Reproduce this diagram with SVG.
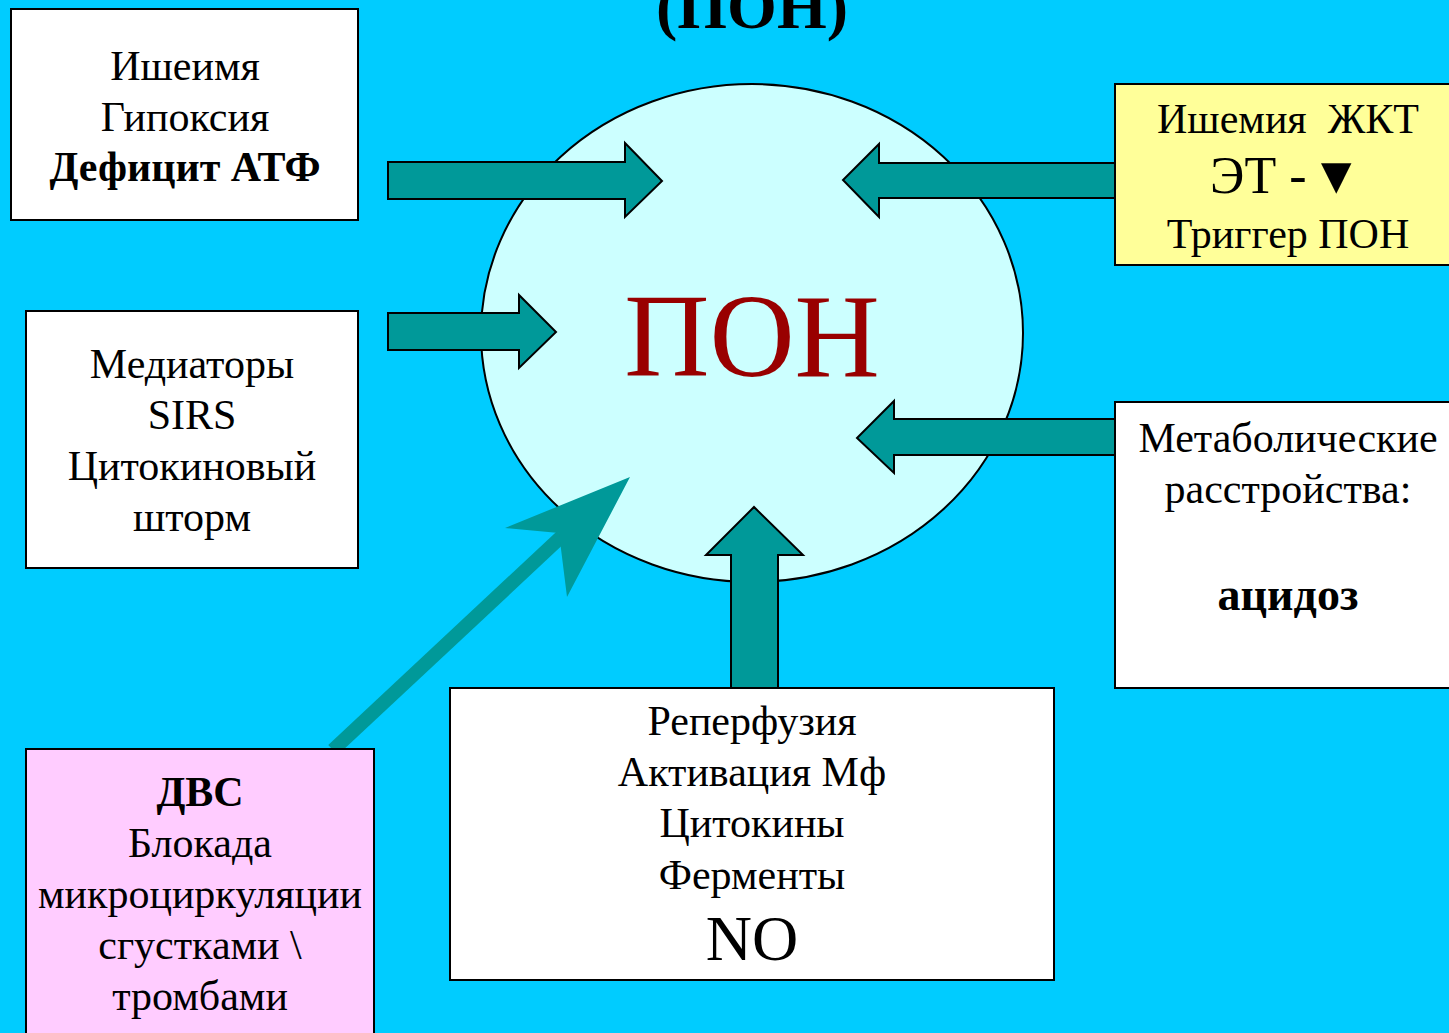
<svg xmlns="http://www.w3.org/2000/svg" width="1449" height="1033" viewBox="0 0 1449 1033">
<style>
.box{stroke:#000;stroke-width:2}
.t{font-family:"Liberation Serif","Times New Roman",serif;font-size:42px;fill:#000;text-anchor:middle}
.b{font-weight:bold}
.arr{fill:#009999;stroke:#000;stroke-width:2;stroke-linejoin:miter}
</style>
<rect x="0" y="0" width="1449" height="1033" fill="#00CCFF"/>
<text class="t b" x="752" y="28" style="font-size:64px">(ПОН)</text>
<g id="pon">
<ellipse cx="752" cy="333" rx="271" ry="249" fill="#CCFFFF" stroke="#000" stroke-width="2"/>
<text class="t" x="752" y="376" style="font-size:118px;fill:#990000">ПОН</text>
</g>
<g id="connectors">
<polygon class="arr" points="388,162 625,162 625,143 662,181 625,217 625,199 388,199"/>
<polygon class="arr" points="1117,163 879,163 879,144 843,180 879,217 879,198 1117,198"/>
<polygon class="arr" points="388,313 519,313 519,295 556,332 519,368 519,350 388,350"/>
<polygon class="arr" points="1119,419 894,419 894,401 857,438 894,473 894,455 1119,455"/>
<polygon class="arr" points="731,688 731,555 706,555 754,507 803,555 778,555 778,688"/>
<line x1="333" y1="750" x2="562" y2="536" stroke="#009999" stroke-width="14"/>
<polygon points="630,477 505,528 559,533 567,597" fill="#009999"/>
</g>
<g id="ischemia">
<rect class="box" x="11" y="9" width="347" height="211" fill="#FFFFFF"/>
<text class="t" x="185" y="80">Ишеимя</text>
<text class="t" x="185" y="131">Гипоксия</text>
<text class="t b" x="185" y="181">Дефицит АТФ</text>
</g>
<g id="mediators">
<rect class="box" x="26" y="311" width="332" height="257" fill="#FFFFFF"/>
<text class="t" x="192" y="378">Медиаторы</text>
<text class="t" x="192" y="429">SIRS</text>
<text class="t" x="192" y="480">Цитокиновый</text>
<text class="t" x="192" y="531">шторм</text>
</g>
<g id="dvs">
<rect class="box" x="26" y="749" width="348" height="300" fill="#FFCCFF"/>
<text class="t b" x="200" y="806">ДВС</text>
<text class="t" x="200" y="857">Блокада</text>
<text class="t" x="200" y="908">микроциркуляции</text>
<text class="t" x="200" y="959">сгустками \</text>
<text class="t" x="200" y="1010">тромбами</text>
</g>
<g id="reperfusion">
<rect class="box" x="450" y="688" width="604" height="292" fill="#FFFFFF"/>
<text class="t" x="752" y="735">Реперфузия</text>
<text class="t" x="752" y="786">Активация Мф</text>
<text class="t" x="752" y="837">Цитокины</text>
<text class="t" x="752" y="889">Ферменты</text>
<text class="t" x="752" y="960" style="font-size:64px">NO</text>
</g>
<g id="gi">
<rect class="box" x="1115" y="84" width="345" height="181" fill="#FFFF99"/>
<text class="t" x="1288" y="133" xml:space="preserve">Ишемия  ЖКТ</text>
<text class="t" x="1286" y="193" style="font-size:52px">ЭТ -<tspan dx="4">▼</tspan></text>
<text class="t" x="1288" y="248">Триггер ПОН</text>
</g>
<g id="metabolic">
<rect class="box" x="1115" y="402" width="345" height="286" fill="#FFFFFF"/>
<text class="t" x="1288" y="452">Метаболические</text>
<text class="t" x="1288" y="503">расстройства:</text>
<text class="t b" x="1288" y="610" style="font-size:46px">ацидоз</text>
</g>
</svg>
